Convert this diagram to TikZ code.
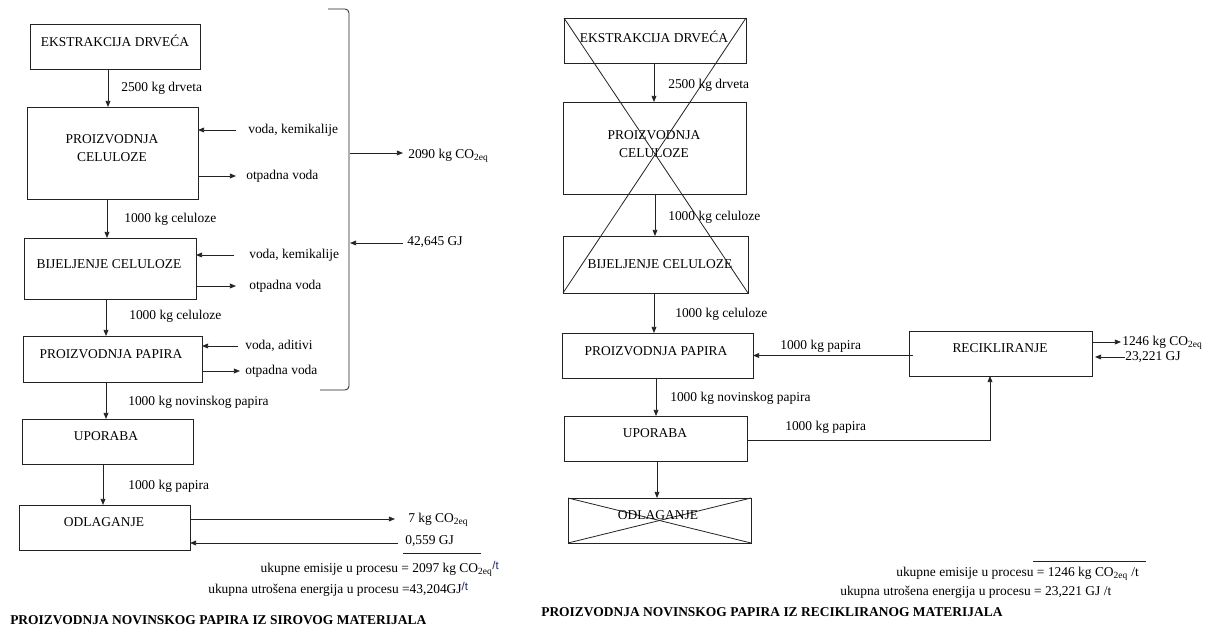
\documentclass[tikz,border=0pt]{standalone}
\usepackage{fontspec}
\setmainfont{Liberation Serif}
\setsansfont{Liberation Sans}
\usetikzlibrary{arrows.meta}
\newdimen\pxu \pxu=0.75pt
\definecolor{linec}{RGB}{35,35,35}
\definecolor{tblue}{RGB}{25,40,110}
\tikzset{
  box/.style={draw=linec, line width=0.7pt, anchor=north west, inner sep=0pt, outer sep=0pt},
  btxt/.style={inner sep=0pt, anchor=center, align=center},
  lbl/.style={inner sep=0pt, anchor=west, text height=0.7em, text depth=0.2em},
  arr/.style={draw=linec, line width=0.6pt, -{Triangle[length=4.6pt,width=3.6pt]}},
  ln/.style={draw=linec, line width=0.6pt},
  ttl/.style={inner sep=0pt, anchor=west, font=\fontsize{10.1}{13.5}\selectfont\bfseries}
}
\newcommand{\coeq}{CO\textsubscript{2eq}}
\begin{document}
\begin{tikzpicture}[x=0.75pt,y=-0.75pt, every node/.append style={font=\fontsize{10.1}{13.5}\selectfont, text=black}]
\useasboundingbox[fill=white] (0,0) rectangle (1218,627);

% ---------------- LEFT: raw material ----------------
\node[box, minimum width=170\pxu, minimum height=45\pxu] (b1) at (30,24) {};
\node[btxt] (t1) at (115,41) {EKSTRAKCIJA DRVEĆA};
\node[box, minimum width=171\pxu, minimum height=92\pxu] (b2) at (27,107) {};
\node[btxt] (t2) at (112,148) {PROIZVODNJA\\CELULOZE};
\node[box, minimum width=172\pxu, minimum height=61\pxu] (b3) at (24,238) {};
\node[btxt] (t3) at (109,264) {BIJELJENJE CELULOZE};
\node[box, minimum width=179\pxu, minimum height=46\pxu] (b4) at (23,336) {};
\node[btxt] (t4) at (111,354) {PROIZVODNJA PAPIRA};
\node[box, minimum width=171\pxu, minimum height=45\pxu] (b5) at (22,419) {};
\node[btxt] (t5) at (106,436) {UPORABA};
\node[box, minimum width=171\pxu, minimum height=45\pxu] (b6) at (19,505) {};
\node[btxt] (t6) at (104,522) {ODLAGANJE};

\draw[arr] (b1.south -| 108,0) -- (b2.north -| 108,0);
\draw[arr] (b2.south -| 107,0) -- (b3.north -| 107,0);
\draw[arr] (b3.south -| 106,0) -- (b4.north -| 106,0);
\draw[arr] (b4.south -| 106,0) -- (b5.north -| 106,0);
\draw[arr] (b5.south -| 103,0) -- (b6.north -| 103,0);

\node[lbl] (l1) at (121,88) {2500 kg drveta};
\node[lbl] (l2) at (248,130) {voda, kemikalije};
\node[lbl] (l3) at (246,176) {otpadna voda};
\node[lbl] (l4) at (124,219) {1000 kg celuloze};
\node[lbl] (l5) at (249,255) {voda, kemikalije};
\node[lbl] (l6) at (249,286) {otpadna voda};
\node[lbl] (l7) at (129,316) {1000 kg celuloze};
\node[lbl] (l8) at (245,346) {voda, aditivi};
\node[lbl] (l9) at (245,371) {otpadna voda};
\node[lbl] (l10) at (128,402) {1000 kg novinskog papira};
\node[lbl] (l11) at (128,486) {1000 kg papira};

\draw[arr, shorten <=12\pxu] (l2.west) -- (b2.east |- l2.west);
\draw[arr, shorten >=10\pxu] (b2.east |- l3.west) -- (l3.west);
\draw[arr, shorten <=15\pxu] (l5.west) -- (b3.east |- l5.west);
\draw[arr, shorten >=13\pxu] (b3.east |- l6.west) -- (l6.west);
\draw[arr, shorten <=7\pxu] (l8.west) -- (b4.east |- l8.west);
\draw[arr, shorten >=5\pxu] (b4.east |- l9.west) -- (l9.west);

% bracket
\draw[ln, rounded corners=4\pxu] (328,9) -- (349,9) -- (349,390) -- (320,390);
\coordinate (brA) at (350,153);
\coordinate (brB) at (350,243);
\node[lbl] (l12) at (408,155) {2090 kg \coeq};
\node[lbl] (l13) at (407,242) {42,645 GJ};
\draw[arr, shorten >=5\pxu] (brA) -- (brA -| l12.west);
\draw[arr, shorten <=4\pxu] (brB -| l13.west) -- (brB);

\node[lbl] (l14) at (408,519) {7 kg \coeq};
\node[lbl] (l15) at (405,541) {0,559 GJ};
\draw[arr, shorten >=13\pxu] (b6.east |- l14.west) -- (l14.west);
\draw[arr, shorten <=7\pxu] ([yshift=-2\pxu]l15.west) -- (b6.east |- 0,543);
\draw[ln] (403,553) -- (481,553);

\node[inner sep=0pt, anchor=east, text height=0.7em, text depth=0.2em] (s1) at (499,569)
  {ukupne emisije u procesu = 2097 kg \coeq\raisebox{2.2pt}{\fontsize{8.5}{10}\sffamily\color{tblue}/t}};
\node[lbl] (s2) at (208,590)
  {ukupna utrošena energija u procesu =43,204GJ\raisebox{2.2pt}{\fontsize{8.5}{10}\sffamily\color{tblue}/t}};
\node[ttl] (T1) at (10,620) {PROIZVODNJA NOVINSKOG PAPIRA IZ SIROVOG MATERIJALA};

% ---------------- RIGHT: recycled material ----------------
\node[box, minimum width=182\pxu, minimum height=45\pxu] (r1) at (564,18) {};
\node[btxt] (u1) at (654,37) {EKSTRAKCIJA DRVEĆA};
\node[box, minimum width=183\pxu, minimum height=92\pxu] (r2) at (563,102) {};
\node[btxt] (u2) at (654,144) {PROIZVODNJA\\CELULOZE};
\node[box, minimum width=185\pxu, minimum height=57\pxu] (r3) at (563,236) {};
\node[btxt] (u3) at (660,264) {BIJELJENJE CELULOZE};
\draw[ln] (r1.north west) -- (r3.south east);
\draw[ln] (r1.north east) -- (r3.south west);

\node[box, minimum width=191\pxu, minimum height=45\pxu] (r4) at (562,333) {};
\node[btxt] (u4) at (656,351) {PROIZVODNJA PAPIRA};
\node[box, minimum width=183\pxu, minimum height=45\pxu] (rec) at (909,331) {};
\node[btxt] (u7) at (1000,348) {RECIKLIRANJE};
\node[box, minimum width=183\pxu, minimum height=45\pxu] (r5) at (564,416) {};
\node[btxt] (u5) at (655,433) {UPORABA};
\node[box, minimum width=183\pxu, minimum height=45\pxu] (r6) at (568,498) {};
\draw[ln] (r6.north west) -- (r6.south east);
\draw[ln] (r6.north east) -- (r6.south west);
\node[btxt] (u6) at (658,515) {ODLAGANJE};

\draw[arr] (r1.south -| 654,0) -- (r2.north -| 654,0);
\draw[arr] (r2.south -| 655,0) -- (r3.north -| 655,0);
\draw[arr] (r3.south -| 654,0) -- (r4.north -| 654,0);
\draw[arr] (r4.south -| 656,0) -- (r5.north -| 656,0);
\draw[arr] (r5.south -| 657,0) -- (r6.north -| 657,0);

\node[lbl] (m1) at (668,85) {2500 kg drveta};
\node[lbl] (m2) at (668,217) {1000 kg celuloze};
\node[lbl] (m3) at (675,314) {1000 kg celuloze};
\node[lbl] (m4) at (780,346) {1000 kg papira};
\node[lbl] (m5) at (670,398) {1000 kg novinskog papira};
\node[lbl] (m6) at (785,427) {1000 kg papira};

\draw[arr, shorten <=-4\pxu] (rec.west |- r4.east) -- (r4.east);
\coordinate (bend) at (990,440);
\draw[arr] (r5.east |- bend) -- (bend) -- (rec.south -| bend);

\node[lbl] (m7) at (1122,342) {1246 kg \coeq};
\node[lbl] (m8) at (1125,357) {23,221 GJ};
\draw[arr, shorten >=1\pxu] (rec.east |- m7.west) -- (m7.west);
\draw[arr, shorten >=3\pxu] (m8.west) -- (rec.east |- m8.west);

\draw[ln] (1033,561) -- (1146,561);
\node[lbl] (rs1) at (896,573) {ukupne emisije u procesu = 1246 kg \coeq\ /t};
\node[lbl] (rs2) at (840,592) {ukupna utrošena energija u procesu = 23,221 GJ /t};
\node[ttl] (T2) at (541,612) {PROIZVODNJA NOVINSKOG PAPIRA IZ RECIKLIRANOG MATERIJALA};
\end{tikzpicture}
\end{document}
